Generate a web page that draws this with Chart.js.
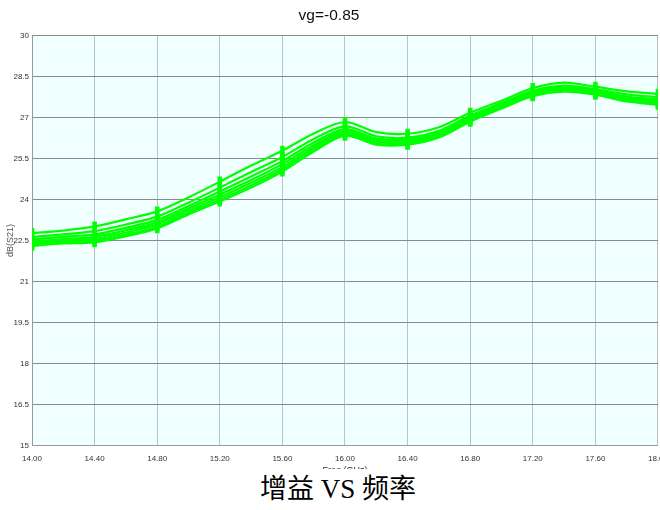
<!DOCTYPE html>
<html>
<head>
<meta charset="utf-8">
<script src="https://cdn.jsdelivr.net/npm/chart.js@4/dist/chart.umd.min.js"></script>
<style>
  html, body { margin: 0; padding: 0; background: #fff; }
  #wrap { position: relative; width: 660px; height: 469px; overflow: hidden; }
  #wrap canvas { position: absolute; left: 0; top: 0; }
  #caption {
    width: 660px; height: 41px; line-height: 41px; text-align: center;
    font-family: "Liberation Serif", "Noto Sans CJK SC", serif; font-size: 27px; color: #000;
    padding-left: 16px; box-sizing: border-box;
  }
</style>
</head>
<body>
<div id="wrap"><canvas id="c" width="676" height="478" style="width:676px;height:478px"></canvas></div>
<div id="caption">增益 VS 频率</div>
<script>
// Frequency sweep (GHz)
const freqGHz = [14.0, 14.2, 14.4, 14.6, 14.8, 15.0, 15.2, 15.4, 15.6, 15.8, 16.0,
                 16.2, 16.4, 16.6, 16.8, 17.0, 17.2, 17.4, 17.6, 17.8, 18.0];

// Gain traces, dB(S21)
const gain1 = [22.77, 22.86, 23.01, 23.27, 23.56, 24.07, 24.65, 25.24, 25.78, 26.41, 26.83,
               26.46, 26.40, 26.64, 27.17, 27.61, 28.07, 28.27, 28.12, 27.95, 27.86];
const gain2 = [22.63, 22.72, 22.84, 23.08, 23.37, 23.88, 24.43, 25.00, 25.55, 26.21, 26.67,
               26.31, 26.26, 26.51, 27.07, 27.52, 27.97, 28.16, 28.03, 27.84, 27.74];
const gain3 = [22.54, 22.63, 22.72, 22.96, 23.25, 23.76, 24.29, 24.84, 25.40, 26.08, 26.57,
               26.22, 26.19, 26.44, 27.01, 27.47, 27.91, 28.10, 27.97, 27.76, 27.65];
const gain4 = [22.46, 22.55, 22.63, 22.87, 23.16, 23.67, 24.18, 24.71, 25.29, 25.98, 26.50,
               26.15, 26.13, 26.39, 26.96, 27.42, 27.87, 28.05, 27.93, 27.70, 27.59];
const gain5 = [22.40, 22.49, 22.56, 22.79, 23.08, 23.59, 24.08, 24.61, 25.19, 25.90, 26.44,
               26.10, 26.08, 26.34, 26.91, 27.38, 27.83, 28.01, 27.89, 27.66, 27.54];
const gain6 = [22.35, 22.44, 22.49, 22.71, 23.00, 23.51, 23.99, 24.51, 25.10, 25.82, 26.38,
               26.04, 26.04, 26.30, 26.87, 27.35, 27.80, 27.97, 27.86, 27.62, 27.50];
const gain7 = [22.30, 22.39, 22.43, 22.65, 22.94, 23.45, 23.92, 24.43, 25.02, 25.75, 26.33,
               26.00, 26.00, 26.26, 26.84, 27.32, 27.77, 27.94, 27.83, 27.58, 27.46];

// Axis ticks
const xTickValues = [14.0, 14.4, 14.8, 15.2, 15.6, 16.0, 16.4, 16.8, 17.2, 17.6, 18.0];
const yTickValues = [15, 16.5, 18, 19.5, 21, 22.5, 24, 25.5, 27, 28.5, 30];

const chartTitle = 'vg=-0.85';
const xTitle = 'Freq (GHz)';
const yTitle = 'dB(S21)';

const traces = [gain1, gain2, gain3, gain4, gain5, gain6, gain7];
const LIME = '#00ff00';
const tickFont = { family: "'Liberation Sans Narrow', 'Liberation Sans', sans-serif", size: 8 };

// markers sit on the tick frequencies
const isMarker = i => xTickValues.some(t => Math.abs(t - freqGHz[i]) < 1e-6);

const plotBg = {
  id: 'plotBg',
  beforeDraw(chart) {
    const { ctx, chartArea: a } = chart;
    ctx.save();
    ctx.fillStyle = '#f0ffff';
    ctx.fillRect(a.left, a.top, a.right - a.left, a.bottom - a.top);
    ctx.restore();
  }
};

new Chart(document.getElementById('c'), {
  type: 'line',
  data: {
    datasets: traces.map((arr, k) => ({
      label: 'trace ' + (k + 1),
      data: freqGHz.map((f, i) => ({ x: f, y: arr[i] })),
      borderColor: LIME,
      backgroundColor: LIME,
      borderWidth: 2.2,
      tension: 0.3,
      fill: false,
      pointStyle: 'line',
      pointRotation: 90,
      pointRadius: ctx => isMarker(ctx.dataIndex) ? 5 : 0,
      pointBorderWidth: 4.5,
      pointBorderColor: LIME
    }))
  },
  options: {
    responsive: false,
    devicePixelRatio: 1,
    animation: false,
    layout: { padding: { left: 0, right: 18, top: 0, bottom: 0 } },
    plugins: {
      legend: { display: false },
      tooltip: { enabled: false },
      title: {
        display: true,
        text: chartTitle,
        color: '#111',
        font: { family: "'Liberation Sans', Arial, sans-serif", size: 15.5, weight: 'normal' },
        padding: { top: 6, bottom: 10.7 }
      }
    },
    scales: {
      x: {
        type: 'linear',
        min: 14,
        max: 18,
        afterBuildTicks: s => { s.ticks = xTickValues.map(v => ({ value: v })); },
        afterFit: s => { s.height = 32.5; },
        ticks: {
          callback: v => Number(v).toFixed(2),
          font: tickFont, color: '#333', padding: 8,
          maxRotation: 0, autoSkip: false
        },
        grid: { color: '#b9c4c4', drawTicks: false },
        border: { color: '#999' },
        title: {
          display: true, text: xTitle, color: '#333',
          font: { family: "'Liberation Sans', sans-serif", size: 9 },
          padding: { top: 2, bottom: 2 }
        }
      },
      y: {
        type: 'linear',
        min: 15,
        max: 30,
        afterBuildTicks: s => { s.ticks = yTickValues.map(v => ({ value: v })); },
        afterFit: s => { s.width = 32; },
        ticks: {
          callback: v => String(v),
          font: tickFont, color: '#333', padding: 3, autoSkip: false
        },
        grid: { color: '#8a8a8a', drawTicks: false },
        border: { color: '#999' },
        title: {
          display: true, text: yTitle, color: '#555',
          font: { family: "'Liberation Sans', sans-serif", size: 9 },
          padding: { top: 5, bottom: 0 }
        }
      }
    }
  },
  plugins: [plotBg]
});
</script>
</body>
</html>
